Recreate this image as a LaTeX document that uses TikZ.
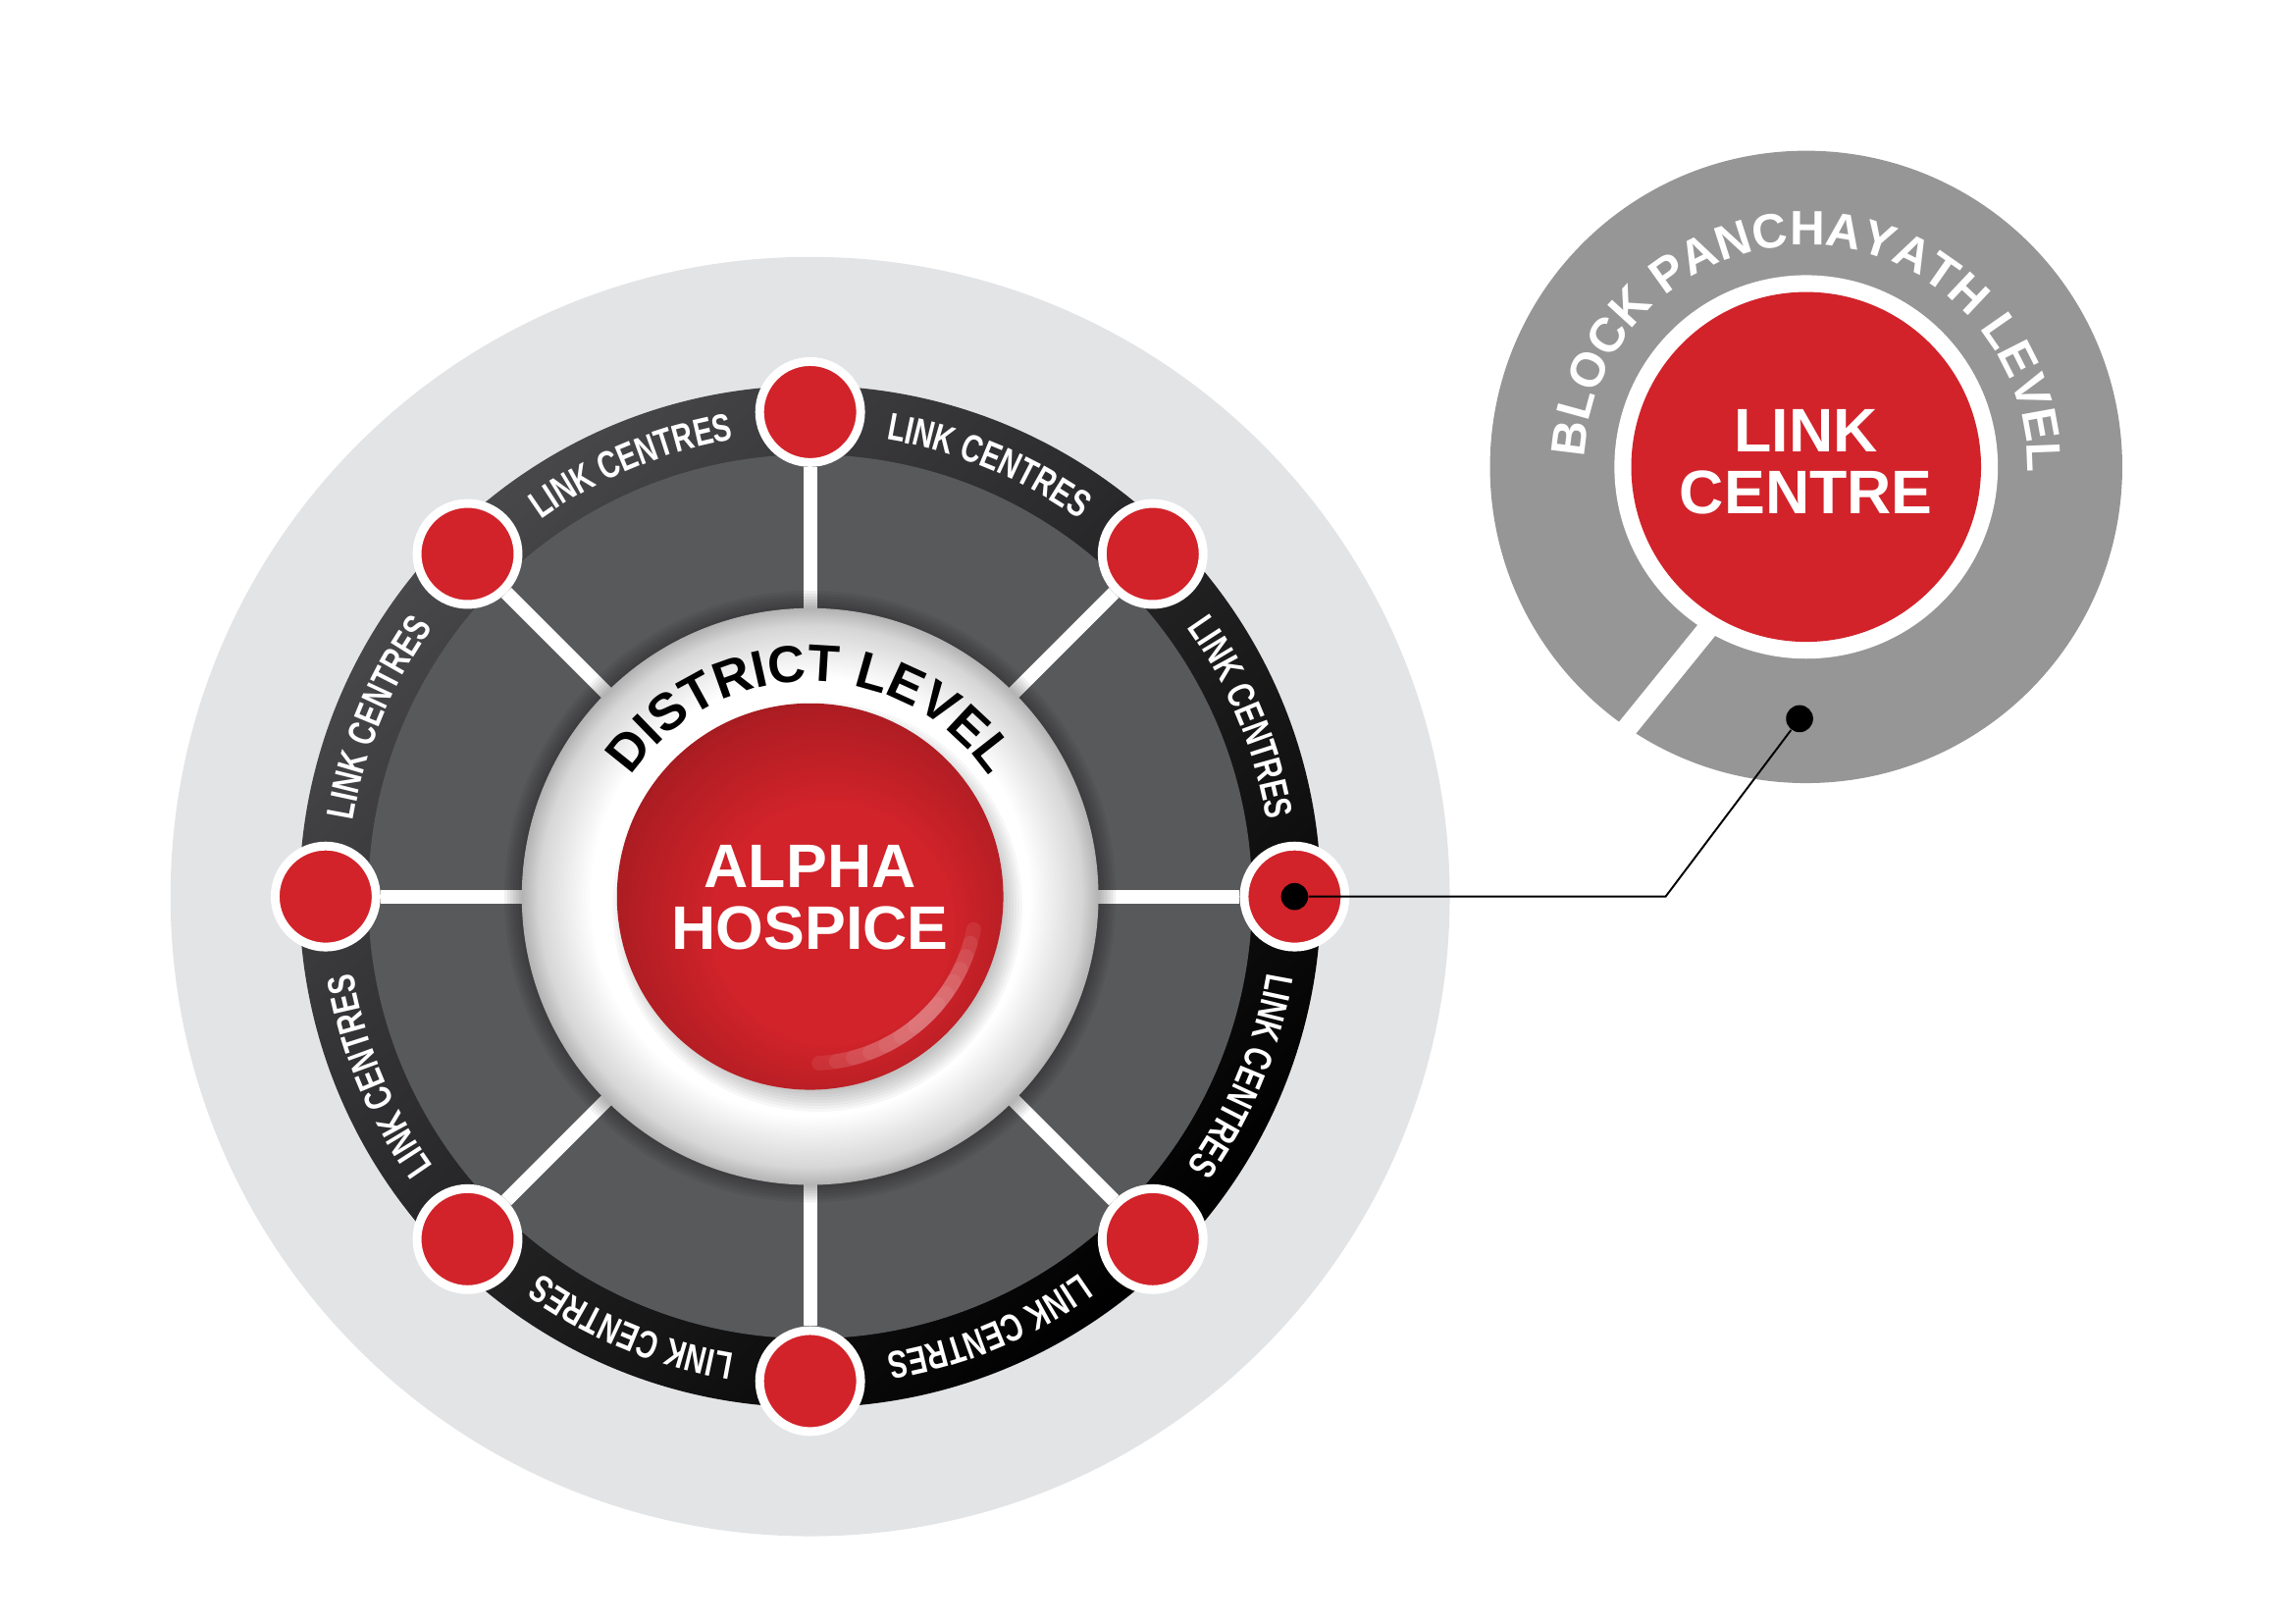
\documentclass[tikz,border=0pt]{standalone}
\usepackage{fontspec}
\setmainfont{Liberation Sans}
\newfontfamily\narrowfont[FakeStretch=0.74]{Liberation Sans}
\usetikzlibrary{decorations.text,calc}

\definecolor{haze}{RGB}{227,228,230}
\definecolor{hubgrey}{RGB}{88,89,91}
\definecolor{ringgrey}{RGB}{72,72,75}
\definecolor{linkred}{RGB}{210,35,42}
\definecolor{blockgrey}{RGB}{150,150,150}

\pgfdeclareradialshading{hubwhite}{\pgfpointorigin}{color(0bp)=(white); color(19bp)=(white); color(23.5bp)=(black!16); color(25bp)=(black!30); color(50bp)=(black!30)}
\pgfdeclareradialshading{hospiceball}{\pgfpoint{4bp}{-5bp}}{color(0bp)=(linkred); color(15bp)=(linkred); color(27bp)=(linkred!82!black); color(30bp)=(linkred!68!black); color(50bp)=(linkred!68!black)}

\begin{document}
\begin{tikzpicture}[x=0.2mm,y=0.2mm,
  linknode/.style={circle,fill=linkred,draw=white,line width=1.2mm,minimum size=13.8mm,inner sep=0pt},
  spoke/.style={white,line width=1.9mm},
  ringtext/.style={decorate,decoration={text along path,text align=center,text color=white,
    text={|\narrowfont\fontsize{15}{15}\selectfont\bfseries|LINK CENTRES}}},
  dot/.style={circle,fill=black,minimum size=3.7mm,inner sep=0pt},
  bigword/.style={text=white,font=\fontsize{23.9}{24}\selectfont\bfseries,anchor=base,inner sep=0pt}]

\useasboundingbox (-553.5,-496.5) rectangle (1014.5,612.5);

\coordinate (hub) at (0,0);
\coordinate (lc) at (680.5,293.5);

\fill[haze] (hub) circle (437);
\shade[top color=ringgrey,middle color=black!92,bottom color=black,shading angle=45] (hub) circle (349);
\fill[hubgrey] (hub) circle (302);

\foreach \i in {0,...,7}{
  \node[linknode] (n\i) at (\i*45:331) {};
  \draw[spoke] (hub) -- (n\i);
}

\foreach \k in {1,...,6}
  \fill[black,opacity=0.05] (hub) circle (197+2*\k);
\shade[shading=hubwhite] (hub) circle (197);

\foreach \k in {0,...,7}
  \fill[black,opacity=0.03] (5,-7) circle (126+2*\k);
\shade[shading=hospiceball] (hub) circle (132);
\foreach \w in {6,12,18,24,30,36,42}
  \draw[white!70!linkred,opacity=0.11,line width=2mm,line cap=round] (-45-\w:114) arc[start angle=-45-\w,end angle=-45+\w*0.8,radius=114];

\node[bigword] (alpha) at (0,6) {ALPHA};
\node[bigword] (hospice) at (0,-36) {HOSPICE};
\path[decorate,decoration={text along path,text align=center,
  text={|\fontsize{20.2}{21}\selectfont\bfseries|DISTRICT LEVEL}}] (150:147) arc[start angle=150,end angle=30,radius=147];

\foreach \a in {22.5,67.5,...,337.5}
  \path[ringtext] (\a+20:316.5) arc[start angle=\a+20,end angle=\a-20,radius=316.5];

\fill[blockgrey] (lc) circle (216);
\fill[white] (lc) circle (131);
\fill[linkred] (lc) circle (119.5);
\draw[white,line width=2.8mm] ($(lc)+(-66,-109)$) -- ($(lc)+(-126,-183)$);

\node[bigword] (link) at ($(lc)+(0,10)$) {LINK};
\node[bigword] (centre) at ($(lc)+(0,-31.7)$) {CENTRE};
\path[decorate,decoration={text along path,text align=center,text color=white,
  text={|\fontsize{18.8}{19}\selectfont\bfseries|BLOCK PANCHAYATH LEVEL}}] ($(lc)+(200:151.5)$) arc[start angle=200,end angle=-24,radius=151.5];

\node[dot] (src) at (n0) {};
\node[dot] (dst) at ($(lc)+(-4.5,-172)$) {};
\coordinate (bend) at (584.5,0);
\draw[line width=0.26mm] (src) -- (bend) -- (dst);

\end{tikzpicture}
\end{document}
